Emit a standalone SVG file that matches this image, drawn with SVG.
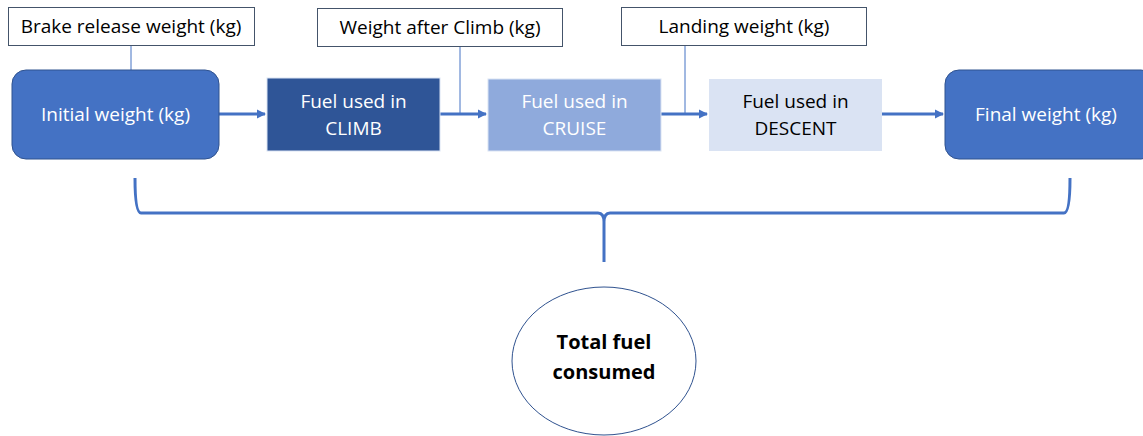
<svg xmlns="http://www.w3.org/2000/svg" width="1143" height="436" viewBox="0 0 1143 436">
<style>
text{font-family:"Open Sans","Liberation Sans",sans-serif;font-size:19px;text-anchor:middle}
text.big{font-size:20px;font-weight:bold}
.lbl rect{fill:#fff;stroke:#44546A;stroke-width:1}
.lbl text{fill:#000}
.w text{fill:#fff}
.flow{stroke:#4472C4;stroke-width:3;fill:none}
.tick{stroke:#4472C4;stroke-width:1;fill:none}
</style>
<defs>
<marker id="ah" markerWidth="10" markerHeight="10" refX="8" refY="5" orient="auto" markerUnits="userSpaceOnUse">
<path d="M0,0.5 L9,5 L0,9.5 Z" fill="#4472C4"/>
</marker>
</defs>
<rect width="1143" height="436" fill="#fff"/>
<g id="connectors">
<line class="tick" x1="131" y1="46" x2="131" y2="70"/>
<line class="tick" x1="460" y1="47" x2="460" y2="114"/>
<line class="tick" x1="685" y1="46" x2="685" y2="114" stroke="#8FAADC"/>
<line class="flow" x1="219" y1="114" x2="265" y2="114" marker-end="url(#ah)"/>
<line class="flow" x1="440" y1="114" x2="486" y2="114" marker-end="url(#ah)"/>
<line class="flow" x1="661" y1="114" x2="707" y2="114" marker-end="url(#ah)"/>
<line class="flow" x1="882" y1="114" x2="943" y2="114" marker-end="url(#ah)"/>
<path class="flow" d="M135,178 Q135,213 141,213 L598,213 Q604,213 604,222 L604,262 M604,222 Q604,213 610,213 L1064,213 Q1070,213 1070,178"/>
</g>
<g id="brake-release" class="lbl"><rect x="8.5" y="7.5" width="246" height="38"/><text x="131" y="33">Brake release weight (kg)</text></g>
<g id="weight-after-climb" class="lbl"><rect x="317.5" y="8.5" width="245" height="38"/><text x="440" y="34">Weight after Climb (kg)</text></g>
<g id="landing-weight" class="lbl"><rect x="621.5" y="7.5" width="245" height="38"/><text x="744" y="33">Landing weight (kg)</text></g>
<g id="initial-weight" class="w"><rect x="12" y="70" width="207" height="89" rx="14" fill="#4472C4" stroke="#2F528F" stroke-width="1"/><text x="115.5" y="121">Initial weight (kg)</text></g>
<g id="climb" class="w"><rect x="267" y="78" width="173" height="73" fill="#2F5597" stroke="#DAE3F3" stroke-width="1"/><text x="353.5" y="108">Fuel used in</text><text x="353.5" y="135">CLIMB</text></g>
<g id="cruise" class="w"><rect x="488" y="79" width="173" height="72" fill="#8FAADC" stroke="#DAE3F3" stroke-width="1"/><text x="574.5" y="108">Fuel used in</text><text x="574.5" y="135">CRUISE</text></g>
<g id="descent"><rect x="709" y="79" width="173" height="72" fill="#DAE3F3"/><text x="795.5" y="108" fill="#000">Fuel used in</text><text x="795.5" y="135" fill="#000">DESCENT</text></g>
<g id="final-weight" class="w"><rect x="945" y="70" width="210" height="89" rx="14" fill="#4472C4" stroke="#2F528F" stroke-width="1"/><text x="1046" y="121">Final weight (kg)</text></g>
<g id="total-fuel"><ellipse cx="604" cy="361" rx="92" ry="74" fill="#fff" stroke="#2F528F" stroke-width="1"/><text class="big" x="604" y="349">Total fuel</text><text class="big" x="604" y="379">consumed</text></g>
</svg>
